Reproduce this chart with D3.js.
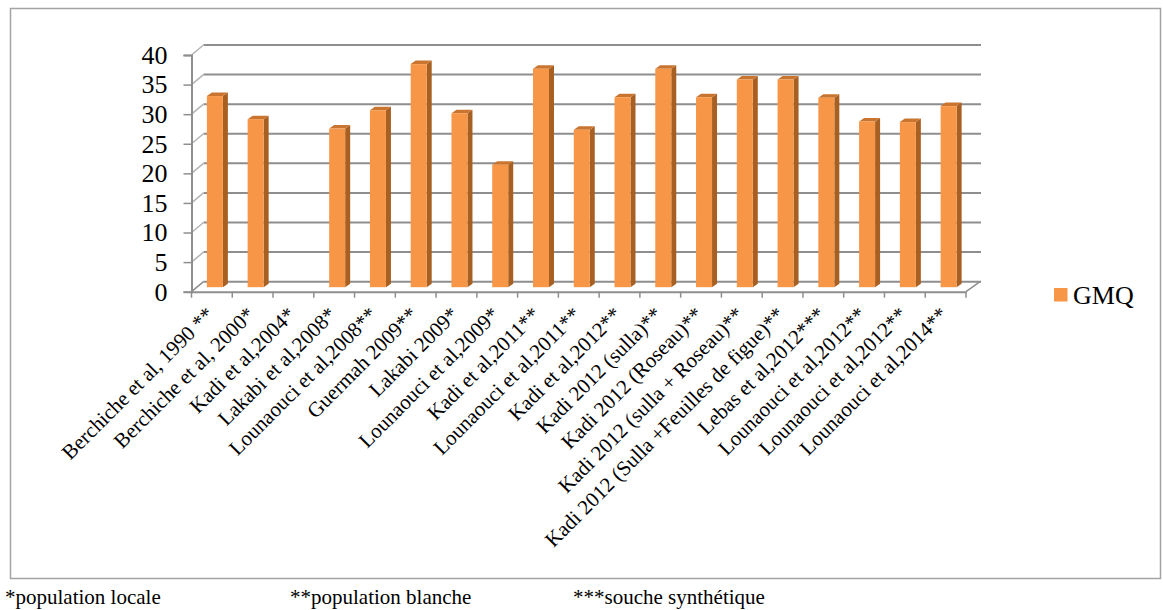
<!DOCTYPE html>
<html>
<head>
<meta charset="utf-8">
<script src="https://cdn.jsdelivr.net/npm/d3@7"></script>
<style>
  html, body { margin: 0; padding: 0; background: #ffffff; }
  svg { display: block; }
  text { font-family: "Liberation Serif", "Times New Roman", Times, "DejaVu Serif", serif; fill: #000; }
</style>
</head>
<body>
<svg id="chart" width="1163" height="610"></svg>
<script>
// GMQ by study (g/day)
const categories = [
  "Berchiche et al, 1990 **",
  "Berchiche et al, 2000*",
  "Kadi et al,2004*",
  "Lakabi et al,2008*",
  "Lounaouci et al,2008**",
  "Guermah 2009**",
  "Lakabi 2009*",
  "Lounaouci et al,2009*",
  "Kadi et al,2011**",
  "Lounaouci et al,2011**",
  "Kadi et al,2012**",
  "Kadi 2012 (sulla)**",
  "Kadi 2012 (Roseau)**",
  "Kadi 2012 (sulla + Roseau)**",
  "Kadi 2012 (Sulla +Feuilles de figue)**",
  "Lebas et al,2012***",
  "Lounaouci et al,2012**",
  "Lounaouci et al,2012**",
  "Lounaouci et al,2014**"
];
const gmq = [32.3, 28.4, null, 26.8, 29.9, 37.7, 29.4, 20.7, 36.9, 26.6,
             32.1, 36.9, 32.1, 35.1, 35.1, 32.0, 28.0, 27.9, 30.6];
const yTicks = [0, 5, 10, 15, 20, 25, 30, 35, 40];
const seriesName = "GMQ";
const footnotes = ["*population locale", "**population blanche", "***souche synthétique"];

const FONT = "'Liberation Serif','Times New Roman',Times,'DejaVu Serif',serif";
const svg = d3.select("#chart");

// outer frame
svg.append("rect")
  .attr("x", 10.5).attr("y", 8.5).attr("width", 1150).attr("height", 570)
  .attr("fill", "none").attr("stroke", "#a3a3a3").attr("stroke-width", 1.5);

// front plane scales
const x = d3.scaleBand().domain(d3.range(categories.length)).range([191.5, 966]).padding(0);
const y = d3.scaleLinear().domain([0, 40]).range([291.7, 55]);

// 3D depth of the walls and of the bars
const wall = { dx: 12, dy: -10 };
const barShift = { dx: 3, dy: -4.5 };
const barDepth = { dx: 5, dy: -3.5 };
const barW = 16;
const gridColor = "#8e8e8e";

const g = svg.append("g");

// back wall gridlines
g.selectAll("line.grid").data(yTicks).join("line")
  .attr("class", "grid")
  .attr("x1", 191.5 + wall.dx).attr("x2", 981)
  .attr("y1", d => y(d) + wall.dy).attr("y2", d => y(d) + wall.dy)
  .attr("stroke", gridColor).attr("stroke-width", 2);

// side wall diagonals
g.selectAll("line.diag").data(yTicks).join("line")
  .attr("x1", 191.5).attr("y1", d => y(d))
  .attr("x2", 191.5 + wall.dx).attr("y2", d => y(d) + wall.dy)
  .attr("stroke", d => d === 0 ? gridColor : "#b4b4b4").attr("stroke-width", 1.5);

// floor right edge
g.append("line")
  .attr("x1", 966).attr("y1", y(0)).attr("x2", 980).attr("y2", y(0) + wall.dy)
  .attr("stroke", gridColor).attr("stroke-width", 1.5);

// bars
const barsData = gmq.map((v, i) => ({ v, i })).filter(d => d.v != null);
const bars = g.selectAll("g.bar").data(barsData).join("g").attr("class", "bar");
bars.each(function (d) {
  const cx = x(d.i) + x.bandwidth() / 2;
  const x0 = cx - barW / 2 + barShift.dx, x1 = x0 + barW;
  const yt = y(d.v) + barShift.dy, yb = y(0) + barShift.dy;
  const sel = d3.select(this);
  sel.append("polygon")
    .attr("points", [[x1, yt], [x1 + barDepth.dx, yt + barDepth.dy], [x1 + barDepth.dx, yb + barDepth.dy], [x1, yb]].join(" "))
    .attr("fill", "#A85F22");
  sel.append("polygon")
    .attr("points", [[x0, yt], [x0 + barDepth.dx, yt + barDepth.dy], [x1 + barDepth.dx, yt + barDepth.dy], [x1, yt]].join(" "))
    .attr("fill", "#C9742F");
  sel.append("rect")
    .attr("x", x0).attr("y", yt).attr("width", barW).attr("height", yb - yt)
    .attr("fill", "#F79646");
});

// y axis
const yAxis = d3.axisLeft(y).tickValues(yTicks).tickSize(8).tickPadding(16);
const ya = svg.append("g").attr("transform", "translate(191.5,0)").call(yAxis)
  .attr("font-family", FONT).attr("font-size", 26);
ya.select(".domain").attr("stroke", gridColor).attr("stroke-width", 2);
ya.selectAll(".tick line").attr("stroke", gridColor).attr("stroke-width", 1.5);
ya.selectAll(".tick text").attr("fill", "#000");

// x axis (front floor edge)
const xAxis = d3.axisBottom(x).tickSize(0).tickFormat("");
const xa = svg.append("g").attr("transform", `translate(0,${y(0)})`).call(xAxis);
xa.select(".domain").attr("stroke", gridColor).attr("stroke-width", 2);
xa.selectAll("line.xtick").data(d3.range(categories.length + 1)).join("line")
  .attr("class", "xtick")
  .attr("x1", i => 191.5 + i * x.step()).attr("x2", i => 191.5 + i * x.step())
  .attr("y1", 0).attr("y2", 6)
  .attr("stroke", gridColor).attr("stroke-width", 1.5);

// category labels
svg.append("g").attr("font-family", FONT).selectAll("text.cat").data(categories).join("text")
  .attr("class", "cat")
  .attr("transform", (d, i) => `translate(${x(i) + x.bandwidth() / 2 - 2},${y(0) + 19}) rotate(-45)`)
  .attr("text-anchor", "end")
  .attr("dy", "0.35em")
  .attr("font-size", 21)
  .text(d => d);

// legend
svg.append("rect").attr("x", 1054).attr("y", 288).attr("width", 13.5).attr("height", 13.5).attr("fill", "#F79646");
svg.append("text").attr("x", 1073).attr("y", 303.5).attr("font-size", 26).attr("font-family", FONT).text(seriesName);

// footnotes
const fx = [5, 290, 573];
svg.append("g").attr("font-family", FONT).selectAll("text.note").data(footnotes).join("text")
  .attr("x", (d, i) => fx[i]).attr("y", 604)
  .attr("font-size", 21)
  .text(d => d);
</script>
</body>
</html>
